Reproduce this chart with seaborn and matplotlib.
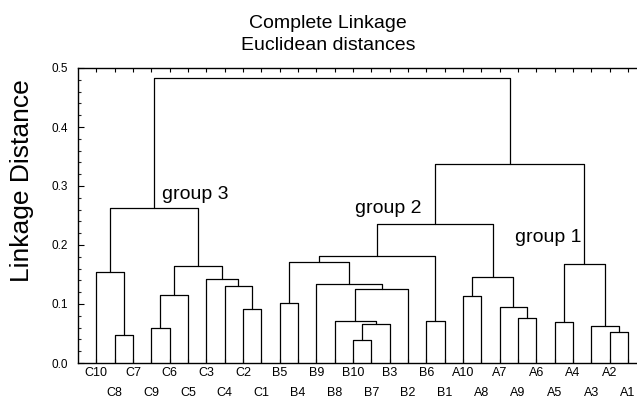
import matplotlib
matplotlib.use("Agg")
import pandas as pd
import matplotlib.pyplot as plt
import seaborn as sns
from matplotlib.ticker import MultipleLocator, FormatStrFormatter

# ------------------------------------------------------------
# DATA: leaf order and merge table (complete linkage)
# ------------------------------------------------------------

LEAVES = ["C10", "C8", "C7", "C9", "C6", "C5", "C3", "C4", "C2", "C1",
          "B5", "B4", "B9", "B8", "B10", "B7", "B3", "B2", "B6", "B1",
          "A10", "A8", "A7", "A9", "A6", "A5", "A4", "A3", "A2", "A1"]

# merge k creates node "n{k}"
MERGE_LEFT = ["C8", "C10", "C9", "n2", "C2", "C4", "C3", "n3", "n1",
              "B5", "B10", "n10", "B8", "n12", "B9", "n9", "B6", "n15",
              "A10", "A9", "A7", "n18", "n17",
              "A5", "A2", "A3", "n23", "n22", "n8"]
MERGE_RIGHT = ["C7", "n0", "C6", "C5", "C1", "n4", "n5", "n6", "n7",
               "B4", "B7", "B3", "n11", "B2", "n13", "n14", "B1", "n16",
               "A8", "A6", "n19", "n20", "n21",
               "A4", "A1", "n24", "n25", "n26", "n27"]
MERGE_HEIGHT = [0.048, 0.155, 0.059, 0.115, 0.092, 0.130, 0.142, 0.165, 0.262,
                0.102, 0.039, 0.066, 0.072, 0.125, 0.134, 0.172, 0.071, 0.182,
                0.114, 0.076, 0.095, 0.145, 0.236,
                0.070, 0.053, 0.062, 0.167, 0.337, 0.483]

GROUP_LABELS = ["group 3", "group 2", "group 1"]

# ------------------------------------------------------------
# BUILD SEGMENTS (U-shaped links)
# ------------------------------------------------------------

pos = {name: (i, 0.0) for i, name in enumerate(LEAVES)}
rows = []
for k, (a, b, h) in enumerate(zip(MERGE_LEFT, MERGE_RIGHT, MERGE_HEIGHT)):
    xa, ya = pos[a]
    xb, yb = pos[b]
    for step, (x, y) in enumerate([(xa, ya), (xa, h), (xb, h), (xb, yb)]):
        rows.append({"link": k, "step": step, "x": x, "y": y})
    pos[f"n{k}"] = ((xa + xb) / 2, h)
seg = pd.DataFrame(rows)

# ------------------------------------------------------------
# STYLE
# ------------------------------------------------------------

sns.set_theme(style="white")
plt.rcParams["font.family"] = ["Liberation Sans", "DejaVu Sans"]
plt.rcParams["text.color"] = "black"
plt.rcParams["axes.labelcolor"] = "black"

fig = plt.figure(figsize=(6.37, 4.01), dpi=100)
ax = fig.add_axes([78 / 637, 1 - 363 / 401, 1 - 78 / 637, (363 - 68) / 401])

sns.lineplot(data=seg, x="x", y="y", units="link", estimator=None,
             sort=False, color="black", linewidth=0.9, ax=ax)

ax.set_xlim(-1, 29.5)
ax.set_ylim(0, 0.5)

# alternating two-row leaf labels
ax.set_xticks(range(0, len(LEAVES), 2))
ax.set_xticklabels(LEAVES[0::2])
ax.set_xticks(range(1, len(LEAVES), 2), minor=True)
ax.set_xticklabels(LEAVES[1::2], minor=True)
ax.tick_params(axis="x", which="major", direction="in", length=3, width=0.8,
               top=True, bottom=True, pad=3, labelsize=9, colors="black")
ax.tick_params(axis="x", which="minor", direction="in", length=3, width=0.8,
               top=True, bottom=True, pad=17.5, labelsize=9, colors="black")

ax.yaxis.set_major_locator(MultipleLocator(0.1))
ax.yaxis.set_minor_locator(MultipleLocator(0.02))
ax.yaxis.set_major_formatter(FormatStrFormatter("%.1f"))
ax.tick_params(axis="y", which="major", direction="in", length=4, width=0.8,
               left=True, pad=7, labelsize=8.5, colors="black")
ax.tick_params(axis="y", which="minor", direction="in", length=2, width=0.8,
               left=True)

for side in ["left", "bottom", "top"]:
    ax.spines[side].set_color("black")
    ax.spines[side].set_linewidth(1.0)
ax.spines["right"].set_visible(False)

ax.set_xlabel("")
ax.set_ylabel("Linkage Distance", fontsize=19)
ax.yaxis.set_label_coords(-0.079, 0.617)

ax.set_title("Complete Linkage\nEuclidean distances", fontsize=14,
             x=0.447, pad=13, linespacing=1.4, color="black")

# group annotations
for label, (x, y) in zip(GROUP_LABELS, [(3.6, 0.285), (14.1, 0.262), (22.85, 0.212)]):
    ax.text(x, y, label, fontsize=14, ha="left", va="center")

fig.savefig("out.png", dpi=100)
